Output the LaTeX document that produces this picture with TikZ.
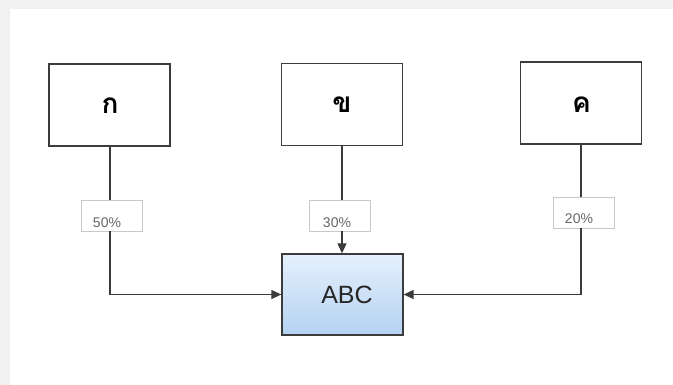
\documentclass[tikz,border=0pt]{standalone}
\usepackage{fontspec}
\setmainfont{Liberation Sans}
\newfontfamily\thaifont[Script=Thai]{Loma}
\usetikzlibrary{arrows.meta}
\definecolor{linegray}{HTML}{3C3C3C}
\definecolor{lblgray}{HTML}{C8C8C8}
\definecolor{txtgray}{HTML}{666666}
\definecolor{bluetop}{HTML}{E6F0FC}
\definecolor{bluebot}{HTML}{B4D2F2}
\definecolor{bgouter}{HTML}{F1F1F1}
\begin{document}
\begin{tikzpicture}[x=1pt,y=-1pt,
  srcbox/.style={draw=linegray,line width=1.3pt,minimum width=121pt,minimum height=82pt,inner sep=0pt,fill=white},
  pctbox/.style={draw=lblgray,line width=0.9pt,minimum width=61pt,minimum height=31pt,inner sep=0pt,fill=white},
  pcttxt/.style={text=txtgray,font=\fontsize{14}{15}\selectfont,inner sep=0pt},
  thai/.style={font=\thaifont\bfseries\fontsize{28}{30}\selectfont,inner sep=0pt},
  conn/.style={draw=linegray,line width=1.2pt},
  arr/.style={conn,-{Triangle[length=10pt,width=9pt]}}]
\useasboundingbox (0,0) rectangle (673,385);
\fill[bgouter] (0,0) rectangle (673,385);
\fill[white] (10,9) rectangle (673,385);
% source boxes
\node[srcbox] (A) at (109.5,105) {};
\node[srcbox] (B) at (342,104.5) {};
\node[srcbox] (C) at (581,103) {};
\node[thai] at (110,106) {ก};
\node[thai] at (342,105) {ข};
\node[thai] at (581.5,104.5) {ค};
% percentage boxes
\node[pctbox] (pA) at (111.5,215.5) {};
\node[pctbox] (pB) at (340,215.5) {};
\node[pctbox] (pC) at (583.5,212.5) {};
\node[pcttxt] at (107,223) {50\%};
\node[pcttxt] at (337,223) {30\%};
\node[pcttxt] at (579,219) {20\%};
% target
\node[draw=linegray,line width=1.3pt,minimum width=121pt,minimum height=81pt,inner sep=0pt,
  top color=bluetop,bottom color=bluebot] (T) at (342.5,294.5) {};
\node[font=\fontsize{25}{27}\selectfont,text=black!85,inner sep=0pt] at (347,295) {ABC};
% connectors
\coordinate (a1) at (110,146);
\draw[conn] (A.south -| a1) -- (pA.north -| a1);
\draw[arr] (pA.south -| a1) |- (T.west);
\coordinate (b1) at (342,146);
\draw[conn] (B.south -| b1) -- (pB.north -| b1);
\draw[arr] (pB.south -| b1) -- (T.north -| b1);
\coordinate (c1) at (581,146);
\draw[conn] (C.south -| c1) -- (pC.north -| c1);
\draw[arr] (pC.south -| c1) |- (T.east);
\end{tikzpicture}
\end{document}
